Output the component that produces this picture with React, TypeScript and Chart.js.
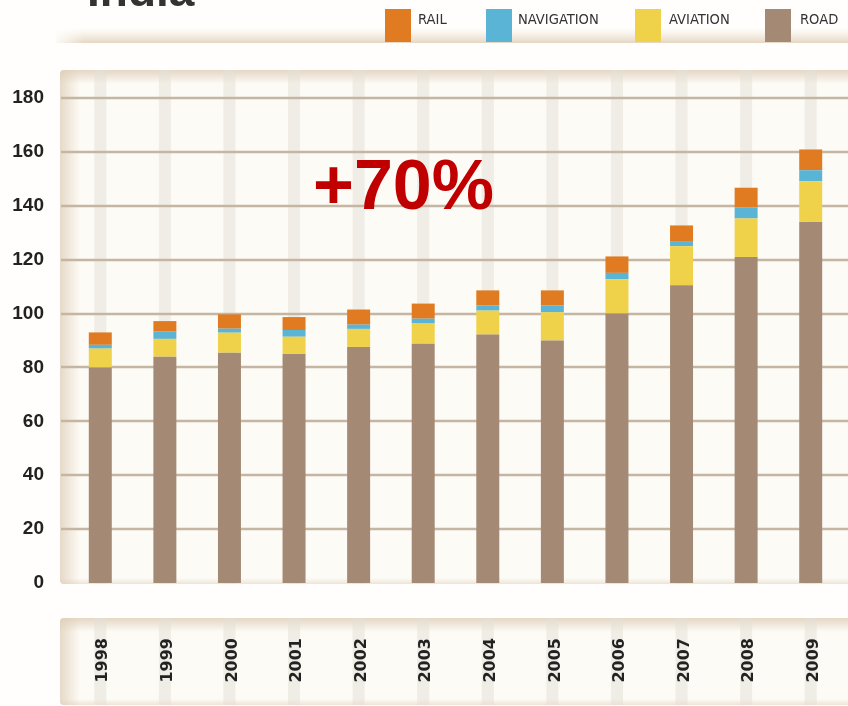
import React, { useEffect, useRef } from "react";
import { Chart, registerables } from "chart.js";

Chart.register(...registerables);

const years = ["1998", "1999", "2000", "2001", "2002", "2003", "2004", "2005", "2006", "2007", "2008", "2009"];
const road = [80, 84, 85.5, 85, 87.6, 88.8, 92.2, 90, 100, 110.5, 121, 134];
const aviation = [7, 6.6, 7.4, 6.4, 6.7, 7.5, 8.9, 10.5, 12.7, 14.5, 14.3, 15.1];
const navigation = [1.4, 2.7, 1.5, 2.5, 1.6, 1.8, 1.9, 2.5, 2.4, 1.9, 4.1, 4.1];
const rail = [4.6, 3.9, 5.3, 4.8, 5.6, 5.6, 5.6, 5.6, 6.1, 5.8, 7.3, 7.7];
const yTicks = [0, 20, 40, 60, 80, 100, 120, 140, 160, 180];
const legendItems = [
  { label: "RAIL", color: "#e07b22" },
  { label: "NAVIGATION", color: "#5ab4d6" },
  { label: "AVIATION", color: "#f0d24a" },
  { label: "ROAD", color: "#a48a74" },
];
const titleText = "India";
const annotationText = "+70%";

const W = 848;
const H = 706;

function roundRect(ctx: CanvasRenderingContext2D, x: number, y: number, w: number, h: number, r: number) {
  ctx.beginPath();
  ctx.moveTo(x + r, y);
  ctx.lineTo(x + w - r, y);
  ctx.quadraticCurveTo(x + w, y, x + w, y + r);
  ctx.lineTo(x + w, y + h - r);
  ctx.quadraticCurveTo(x + w, y + h, x + w - r, y + h);
  ctx.lineTo(x + r, y + h);
  ctx.quadraticCurveTo(x, y + h, x, y + h - r);
  ctx.lineTo(x, y + r);
  ctx.quadraticCurveTo(x, y, x + r, y);
  ctx.closePath();
}

function drawPanel(ctx: CanvasRenderingContext2D, l: number, t: number, r: number, b: number) {
  ctx.save();
  roundRect(ctx, l, t, r - l + 6, b - t, 4);
  ctx.fillStyle = "#fdfbf6";
  ctx.fill();
  ctx.clip();
  const gt = ctx.createLinearGradient(0, t, 0, t + 14);
  gt.addColorStop(0, "rgba(222,206,184,0.8)");
  gt.addColorStop(1, "rgba(222,206,184,0)");
  ctx.fillStyle = gt;
  ctx.fillRect(l, t, r - l, 14);
  const gl = ctx.createLinearGradient(l, 0, l + 20, 0);
  gl.addColorStop(0, "rgba(222,206,184,0.75)");
  gl.addColorStop(1, "rgba(222,206,184,0)");
  ctx.fillStyle = gl;
  ctx.fillRect(l, t, 20, b - t);
  const gb = ctx.createLinearGradient(0, b - 6, 0, b);
  gb.addColorStop(0, "rgba(222,206,184,0)");
  gb.addColorStop(1, "rgba(222,206,184,0.5)");
  ctx.fillStyle = gb;
  ctx.fillRect(l, b - 6, r - l, 6);
  ctx.restore();
}

const decorPlugin = {
  id: "decor",
  beforeDraw(chart: any) {
    const ctx: CanvasRenderingContext2D = chart.ctx;
    const xs = chart.scales.x;
    const ys = chart.scales.y;
    ctx.save();
    ctx.fillStyle = "#fffefc";
    ctx.fillRect(0, 0, W, H);

    // header shadow band
    const hg = ctx.createLinearGradient(0, 28, 0, 43);
    hg.addColorStop(0, "rgba(236,224,208,0)");
    hg.addColorStop(1, "rgba(226,210,188,0.9)");
    ctx.fillStyle = hg;
    ctx.fillRect(56, 28, W - 56, 15);
    const hl = ctx.createLinearGradient(52, 0, 85, 0);
    hl.addColorStop(0, "rgba(255,254,252,1)");
    hl.addColorStop(1, "rgba(255,254,252,0)");
    ctx.fillStyle = hl;
    ctx.fillRect(52, 27, 33, 17);

    drawPanel(ctx, 60, 70, W, 584);
    drawPanel(ctx, 60, 618, W, 705);

    // vertical stripes
    ctx.fillStyle = "rgba(228,224,214,0.5)";
    for (let i = 0; i < years.length; i++) {
      const cx = xs.getPixelForValue(i);
      ctx.fillRect(cx - 6, 70, 12, 584 - 70);
      ctx.fillRect(cx - 6, 618, 12, 705 - 618);
    }

    // horizontal gridlines
    ctx.strokeStyle = "#c4b6a2";
    ctx.lineWidth = 2.5;
    for (const v of yTicks) {
      if (v === 0) continue;
      const py = Math.round(ys.getPixelForValue(v));
      ctx.beginPath();
      ctx.moveTo(61, py);
      ctx.lineTo(W, py);
      ctx.stroke();
    }
    ctx.restore();
  },
  afterDraw(chart: any) {
    const ctx: CanvasRenderingContext2D = chart.ctx;
    ctx.save();
    // title (cut off at top)
    ctx.fillStyle = "#333333";
    ctx.font = "bold 46px 'Liberation Sans', Arial, sans-serif";
    ctx.textBaseline = "alphabetic";
    ctx.textAlign = "left";
    ctx.fillText(titleText, 87, 6);

    // legend
    const swX = [385, 486, 635, 765];
    const txX = [418, 518, 669, 800];
    ctx.font = "14.6px 'Liberation Sans Narrow', 'DejaVu Sans Condensed', 'Arial Narrow', sans-serif";
    legendItems.forEach((it, i) => {
      ctx.fillStyle = it.color;
      ctx.fillRect(swX[i], 9, 26, 33);
      ctx.fillStyle = "#333333";
      ctx.fillText(it.label, txX[i], 23.5);
    });

    // annotation
    ctx.fillStyle = "#c00000";
    ctx.font = "bold 70px 'Liberation Sans', Arial, sans-serif";
    ctx.fillText(annotationText, 313, 209);
    ctx.restore();
  },
};

export default function App() {
  const ref = useRef<HTMLCanvasElement | null>(null);
  useEffect(() => {
    document.body.style.margin = "0";
    const canvas = ref.current;
    if (!canvas) return;
    const ds = (label: string, data: number[], color: string) => ({
      label,
      data,
      backgroundColor: color,
      borderWidth: 0,
      categoryPercentage: 1,
      barPercentage: 0.356,
    });
    const chart = new Chart(canvas, {
      type: "bar",
      data: {
        labels: years,
        datasets: [
          ds("ROAD", road, legendItems[3].color),
          ds("AVIATION", aviation, legendItems[2].color),
          ds("NAVIGATION", navigation, legendItems[1].color),
          ds("RAIL", rail, legendItems[0].color),
        ],
      },
      options: {
        responsive: false,
        animation: false,
        layout: { padding: { top: 98, left: 12, right: 5, bottom: 24 } },
        plugins: { legend: { display: false }, tooltip: { enabled: false }, title: { display: false } },
        scales: {
          x: {
            stacked: true,
            grid: { display: false, drawTicks: false },
            border: { display: false },
            afterFit: (s: any) => {
              s.height = 99;
              s.paddingLeft = 0;
              s.paddingRight = 0;
            },
            ticks: {
              minRotation: 90,
              maxRotation: 90,
              padding: 55,
              labelOffset: 3,
              color: "#222222",
              font: { family: "'DejaVu Sans', sans-serif", weight: "bold", size: 16 },
            },
          },
          y: {
            stacked: true,
            min: 0,
            max: 180,
            grid: { display: false, drawTicks: false },
            border: { display: false },
            afterFit: (s: any) => {
              s.width = 56;
              s.paddingTop = 0;
              s.paddingBottom = 0;
            },
            ticks: {
              stepSize: 20,
              padding: 24,
              color: "#222222",
              font: { family: "'Liberation Sans', Arial, sans-serif", weight: "bold", size: 19 },
            },
          },
        },
      },
      plugins: [decorPlugin],
    });
    return () => chart.destroy();
  }, []);
  return <canvas ref={ref} width={W} height={H} style={{ display: "block", width: W, height: H }} />;
}
